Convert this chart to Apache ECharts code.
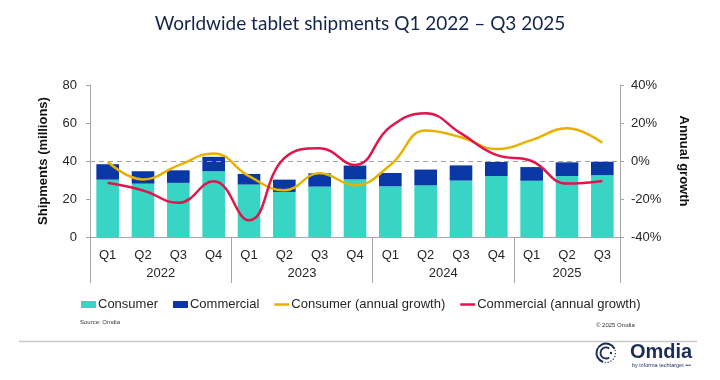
<!DOCTYPE html>
<html>
<head>
<meta charset="utf-8">
<script src="https://cdn.jsdelivr.net/npm/echarts@6/dist/echarts.min.js"></script>
<style>
html,body{margin:0;padding:0;background:#fff;}
#chart{width:720px;height:380px;}
</style>
</head>
<body>
<div id="chart"></div>
<script>
// ---- data ----
var quarters = ['Q1','Q2','Q3','Q4','Q1','Q2','Q3','Q4','Q1','Q2','Q3','Q4','Q1','Q2','Q3'];
var years = ['2022','2023','2024','2025'];
var yearCenters = [2, 6, 10, 13.5];
var yearStartIdx = [0, 4, 8, 12];
var consumer = [30.2, 28.1, 28.5, 34.6, 27.6, 23.7, 26.5, 30.3, 26.7, 27.2, 29.7, 32.1, 29.6, 32.1, 32.6];
var commercial = [8.1, 6.5, 6.6, 7.6, 5.6, 6.5, 7.0, 7.3, 7.0, 8.3, 8.0, 7.4, 7.2, 7.2, 7.0];
var consumerGrowth = [-0.4, -9.7, -2.3, 4.0, -8.0, -15.4, -6.5, -12.7, -2.1, 16.0, 12.5, 6.3, 11.0, 17.2, 9.6];
var commercialGrowth = [-11.5, -15.5, -22.0, -10.6, -31.2, 1.5, 6.7, -2.1, 18.0, 25.1, 14.5, 3.2, 0.0, -11.9, -10.5];
var leftTicks = {min: 0, max: 80, interval: 20};
var rightTicks = {min: -40, max: 40, interval: 20};

var FONT = 'Liberation Sans';
var axisGray = '#a6a6a6';
var txt = '#262626';
var navy = '#1c2d5a';

var chart = echarts.init(document.getElementById('chart'), null, {renderer: 'canvas'});
var option = {
  animation: false,
  backgroundColor: '#ffffff',
  textStyle: {fontFamily: FONT},
  title: {
    text: 'Worldwide tablet shipments Q1 2022 \u2013 Q3 2025',
    left: 'center',
    top: 9,
    textStyle: {fontFamily: 'Lato', fontWeight: 'normal', fontSize: 19, color: '#14254a'}
  },
  grid: {left: 90, right: 100, top: 85, bottom: 143, containLabel: false},
  legend: {
    left: 76, top: 293,
    itemWidth: 15, itemHeight: 7, itemGap: 15,
    symbolKeepAspect: true,
    textStyle: {fontFamily: FONT, fontSize: 13, color: txt, padding: [0, 0, 0, -3]},
    data: [
      {name: 'Consumer', icon: 'rect'},
      {name: 'Commercial', icon: 'rect'},
      {name: 'Consumer (annual growth)', icon: 'path://M0,0L15,0L15,2.5L0,2.5Z'},
      {name: 'Commercial (annual growth)', icon: 'path://M0,0L15,0L15,2.5L0,2.5Z'}
    ]
  },
  xAxis: [
    {
      type: 'category',
      data: quarters,
      axisLine: {show: true, lineStyle: {color: axisGray, width: 1}},
      axisTick: {
        show: true, length: 46, lineStyle: {color: axisGray, width: 1},
        interval: function (i) { return yearStartIdx.indexOf(i) >= 0; }
      },
      axisLabel: {fontFamily: FONT, fontSize: 13, color: txt, margin: 12, interval: 0}
    },
    {
      type: 'value',
      min: 0, max: 15,
      position: 'bottom',
      axisLine: {show: false},
      splitLine: {show: false},
      axisTick: {show: false},
      axisLabel: {
        customValues: yearCenters,
        fontFamily: FONT, fontSize: 13, color: txt, margin: 30,
        formatter: function (v) { var i = yearCenters.indexOf(v); return i >= 0 ? years[i] : ''; }
      }
    }
  ],
  yAxis: [
    {
      type: 'value',
      min: leftTicks.min, max: leftTicks.max, interval: leftTicks.interval,
      name: 'Shipments (millions)',
      nameLocation: 'middle', nameGap: 40, nameRotate: 90,
      nameTextStyle: {fontFamily: FONT, fontWeight: 'bold', fontSize: 13, color: '#111'},
      axisLine: {show: true, lineStyle: {color: axisGray}},
      axisTick: {show: true, length: 4, lineStyle: {color: axisGray}},
      splitLine: {show: false},
      axisLabel: {fontFamily: FONT, fontSize: 13, color: txt, margin: 13}
    },
    {
      type: 'value',
      position: 'right',
      min: rightTicks.min, max: rightTicks.max, interval: rightTicks.interval,
      name: 'Annual growth',
      nameLocation: 'middle', nameGap: 57, nameRotate: -90,
      nameTextStyle: {fontFamily: FONT, fontWeight: 'bold', fontSize: 13, color: '#111'},
      axisLine: {show: true, lineStyle: {color: axisGray}},
      axisTick: {show: true, length: 4, lineStyle: {color: axisGray}},
      splitLine: {show: false},
      axisLabel: {fontFamily: FONT, fontSize: 13, color: txt, margin: 11, formatter: '{value}%'}
    }
  ],
  series: [
    {
      name: 'Consumer', type: 'bar', stack: 'ship', data: consumer,
      barCategoryGap: '36%',
      itemStyle: {color: '#38d5c5'},
      markLine: {
        silent: true, symbol: 'none', label: {show: false},
        lineStyle: {type: [5, 4], color: '#a0a0a0', width: 1},
        data: [{yAxis: 40}]
      }
    },
    {
      name: 'Commercial', type: 'bar', stack: 'ship', data: commercial,
      itemStyle: {color: '#0a37a6'}
    },
    {
      name: 'Consumer (annual growth)', type: 'line', yAxisIndex: 1, data: consumerGrowth,
      smooth: 0.45, symbol: 'none', showSymbol: false, z: 5,
      itemStyle: {color: '#e8b100'},
      lineStyle: {color: '#e8b100', width: 2.5}
    },
    {
      name: 'Commercial (annual growth)', type: 'line', yAxisIndex: 1, data: commercialGrowth,
      smooth: 0.45, symbol: 'none', showSymbol: false, z: 6,
      itemStyle: {color: '#e0154b'},
      lineStyle: {color: '#e0154b', width: 2.5}
    }
  ],
  graphic: [
    {type: 'text', left: 80, top: 319, style: {text: 'Source: Omdia', fontFamily: FONT, fontSize: 6, fill: '#333'}},
    {type: 'text', left: 596, top: 322, style: {text: '\u00a9 2025 Omdia', fontFamily: FONT, fontSize: 6, fill: '#333'}},
    {type: 'line', shape: {x1: 19, y1: 341.5, x2: 697, y2: 341.5}, style: {stroke: '#c8c8c8', lineWidth: 1.5}},
    // logo
    {type: 'arc', shape: {cx: 606, cy: 353, r: 9.5, startAngle: Math.PI * 0.6, endAngle: Math.PI * 1.85}, style: {stroke: navy, lineWidth: 2, fill: null}},
    {type: 'arc', shape: {cx: 606, cy: 353, r: 9.5, startAngle: Math.PI * 1.9, endAngle: Math.PI * 2.55}, style: {stroke: navy, lineWidth: 1.2, fill: null, lineDash: [1.2, 1.8]}},
    {type: 'arc', shape: {cx: 606, cy: 353, r: 5.5, startAngle: Math.PI * 0.3, endAngle: Math.PI * 1.7}, style: {stroke: navy, lineWidth: 1.8, fill: null}},
    {type: 'circle', shape: {cx: 611, cy: 353, r: 1.2}, style: {fill: navy}},
    {type: 'text', left: 630, top: 342, style: {text: 'Omdia', fontFamily: FONT, fontWeight: 'bold', fontSize: 20, fill: navy}},
    {type: 'text', left: 632, top: 362, style: {text: 'by informa techtarget \u2022\u2022\u2022', fontFamily: FONT, fontSize: 5.5, fill: navy}}
  ]
};
chart.setOption(option);
</script>
</body>
</html>
